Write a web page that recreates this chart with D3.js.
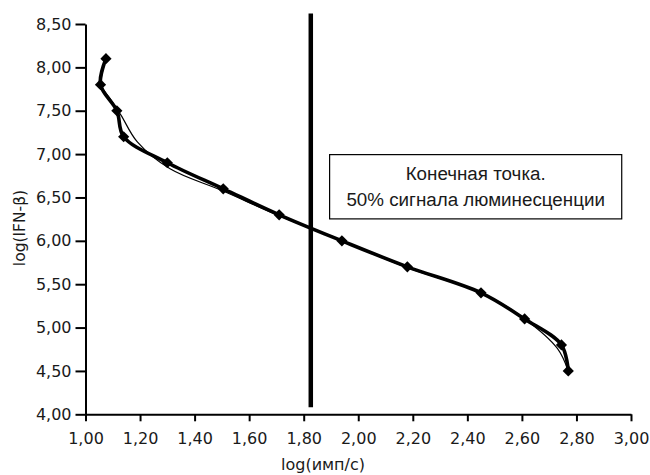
<!DOCTYPE html>
<html>
<head>
<meta charset="utf-8">
<script src="https://cdn.jsdelivr.net/npm/d3@7"></script>
<style>
  html, body { margin: 0; padding: 0; background: #fff; }
  svg { display: block; }
</style>
</head>
<body>
<svg id="chart" width="650" height="475"></svg>
<script>
// ---- data ----
const xTicks = [1.0, 1.2, 1.4, 1.6, 1.8, 2.0, 2.2, 2.4, 2.6, 2.8, 3.0];
const yTicks = [4.0, 4.5, 5.0, 5.5, 6.0, 6.5, 7.0, 7.5, 8.0, 8.5];

// main series (thick line with diamond markers)
const mainX = [1.075, 1.055, 1.115, 1.14, 1.30, 1.505, 1.71, 1.94, 2.18, 2.45, 2.61, 2.745, 2.77];
const mainY = [8.10, 7.80, 7.50, 7.20, 6.90, 6.60, 6.30, 6.00, 5.70, 5.40, 5.10, 4.80, 4.50];

// second series (thin line, no markers)
const thinX = [1.075, 1.058, 1.09, 1.13, 1.19, 1.31, 1.50, 1.71, 1.94, 2.18, 2.45, 2.61, 2.73, 2.77];
const thinY = [8.10, 7.80, 7.64, 7.45, 7.14, 6.83, 6.58, 6.29, 6.00, 5.69, 5.40, 5.10, 4.76, 4.50];

// end point marker (vertical line)
const endPointX = [1.826];
const endPointY = [8.62, 4.08];

const annotationLines = ["Конечная точка.", "50% сигнала люминесценции"];
const xTitle = "log(имп/с)";
const yTitle = "log(IFN-β)";

// ---- layout ----
const svg = d3.select("#chart");
const x = d3.scaleLinear().domain([1, 3]).range([85.5, 631]);
const y = d3.scaleLinear().domain([4, 8.5]).range([414.3, 24]);
const fmt = d => d3.format(".2f")(d).replace(".", ",");
const tickFont = "'DejaVu Sans', sans-serif";

// axes
const gx = svg.append("g").attr("transform", `translate(0,${y(4)})`)
  .call(d3.axisBottom(x).tickValues(xTicks).tickFormat(fmt).tickSize(7).tickPadding(11).tickSizeOuter(0));
const gy = svg.append("g").attr("transform", `translate(${x(1)},0)`)
  .call(d3.axisLeft(y).tickValues(yTicks).tickFormat(fmt).tickSize(10).tickPadding(4).tickSizeOuter(0));
[gx, gy].forEach(g => {
  g.select(".domain").attr("stroke", "#000").attr("stroke-width", 2);
  g.selectAll(".tick line").attr("stroke", "#000").attr("stroke-width", 2);
  g.selectAll(".tick text").attr("fill", "#1a1a1a").style("font-family", tickFont).style("font-size", "16px");
});

// axis titles
svg.append("text").attr("x", 323).attr("y", 470).attr("text-anchor", "middle")
  .style("font-family", tickFont).style("font-size", "16px").attr("fill", "#1a1a1a").text(xTitle);
svg.append("text").attr("transform", `translate(25,228) rotate(-90)`).attr("text-anchor", "middle")
  .style("font-family", tickFont).style("font-size", "15.5px").attr("fill", "#1a1a1a").text(yTitle);

// vertical end point line
svg.append("line")
  .attr("x1", x(endPointX[0])).attr("x2", x(endPointX[0]))
  .attr("y1", y(endPointY[0])).attr("y2", y(endPointY[1]))
  .attr("stroke", "#000").attr("stroke-width", 4.5);

// thin line
const thinData = thinX.map((d, i) => [d, thinY[i]]);
svg.append("path").datum(thinData)
  .attr("d", d3.line().x(d => x(d[0])).y(d => y(d[1])).curve(d3.curveCatmullRom.alpha(0.5)))
  .attr("fill", "none").attr("stroke", "#000").attr("stroke-width", 1.2);

// main line
const mainData = mainX.map((d, i) => [d, mainY[i]]);
svg.append("path").datum(mainData)
  .attr("d", d3.line().x(d => x(d[0])).y(d => y(d[1])).curve(d3.curveCatmullRom.alpha(0.5)))
  .attr("fill", "none").attr("stroke", "#000").attr("stroke-width", 3.6).attr("stroke-linejoin", "round");

// diamonds
svg.append("g").selectAll("path").data(mainData).join("path")
  .attr("transform", d => `translate(${x(d[0])},${y(d[1])})`)
  .attr("d", d3.symbol(d3.symbolDiamond2, 80)())
  .attr("fill", "#000");

// annotation box
const bx0 = x(1.895), bx1 = x(2.966), by0 = y(6.994), by1 = y(6.253);
svg.append("rect").attr("x", bx0).attr("y", by0).attr("width", bx1 - bx0).attr("height", by1 - by0)
  .attr("fill", "#fff").attr("stroke", "#000").attr("stroke-width", 1.2);
svg.append("g").selectAll("text").data(annotationLines).join("text")
  .attr("x", (bx0 + bx1) / 2).attr("y", (d, i) => 180 + i * 26)
  .attr("text-anchor", "middle")
  .style("font-family", "'Liberation Sans', Arial, sans-serif").style("font-size", "18.8px")
  .attr("fill", "#1a1a1a").text(d => d);
</script>
</body>
</html>
